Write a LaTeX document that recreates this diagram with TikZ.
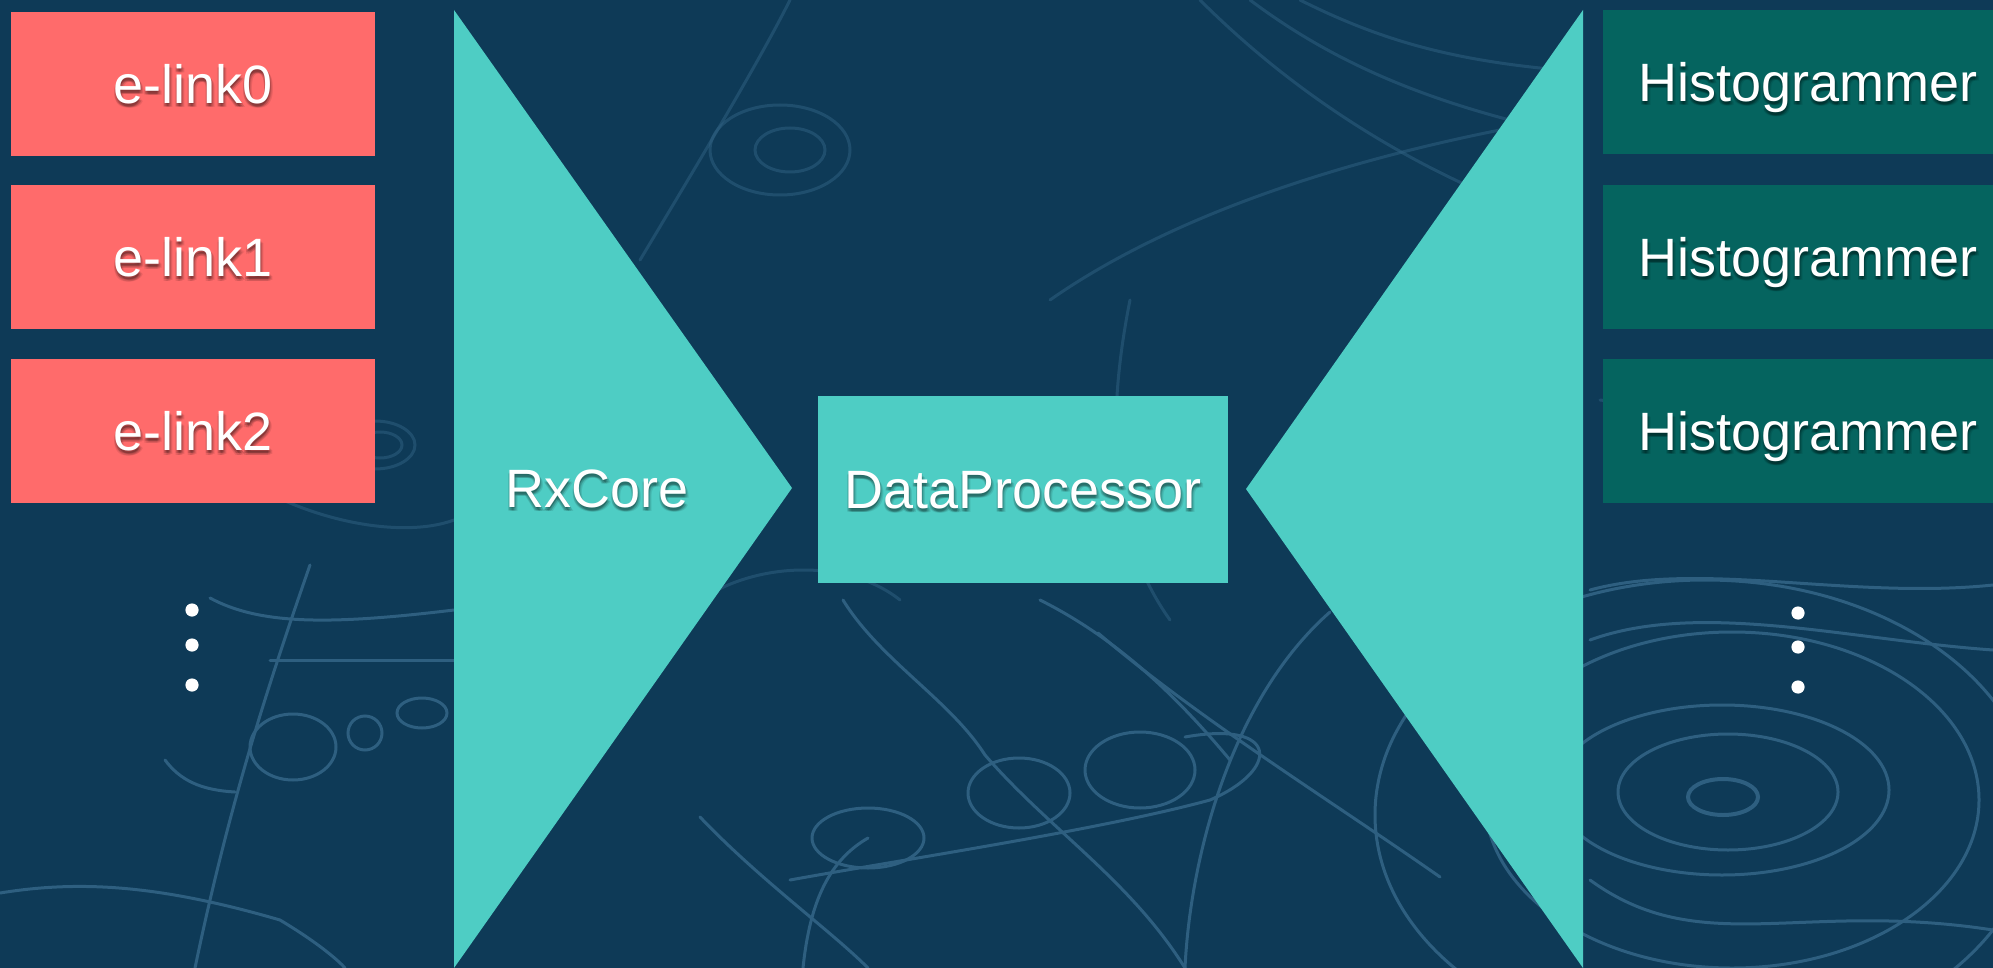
\documentclass[tikz,border=0pt]{standalone}
\usepackage{fontspec}
\setmainfont{Liberation Sans}
\definecolor{bgnavy}{HTML}{0E3A57}
\definecolor{trackc}{HTML}{2E5F80}
\definecolor{linkred}{HTML}{FF6B6B}
\definecolor{coreteal}{HTML}{4ECDC4}
\definecolor{histteal}{HTML}{05645F}
\tikzset{
  track/.style={draw=trackc, line width=3pt, line cap=round},
  faint/.style={draw=trackc, line width=3pt, opacity=0.55, line cap=round},
  linkbox/.style={fill=linkred, minimum width=364pt, minimum height=144pt, anchor=north west, inner sep=0pt},
  histbox/.style={fill=histteal, minimum width=400pt, minimum height=144pt, anchor=north west, inner sep=0pt},
  procbox/.style={fill=coreteal, minimum width=410pt, minimum height=187pt, anchor=north west, inner sep=0pt},
  lbl/.style={text=white, font=\fontsize{54}{60}\selectfont, inner sep=0pt},
  lblshade/.style={text=black, opacity=0.09, font=\fontsize{54}{60}\selectfont, inner sep=0pt},
  dot/.style={fill=white},
}
% soft drop shadow: a few faint copies of the label spread round an offset point
\newcommand{\softshadow}[4]{%
  \foreach \dx/\dy [count=\k] in {0/3, 2/3, -1/3, 1/1.5, 1/4.5, 3/4, -1/4.5} {
    \node[lblshade, #4] (#1sh\k) at ([shift={(\dx,\dy)}]#2) {#3};
  }%
}
\begin{document}
\begin{tikzpicture}[x=1pt,y=-1pt]
\useasboundingbox (0,0) rectangle (1993,968);
\begin{scope}
\clip (0,0) rectangle (1993,968);
\fill[bgnavy] (0,0) rectangle (1993,968);

% bubble-chamber tracks in the background
\draw[track, line width=4pt] (1723,797) ellipse (35 and 18);
\draw[track] (1728,792) ellipse (110 and 58);
\draw[track] (1722,790) ellipse (167 and 85);
\draw[track] (1732,800) ellipse (247 and 168);
\draw[track] (1705,815) ellipse (330 and 235);
\draw[track] (1590,590) .. controls (1700,560) and (1850,600) .. (1993,585);
\draw[track] (1590,640) .. controls (1700,600) and (1850,640) .. (1993,650);
\draw[track] (1590,880) .. controls (1700,960) and (1800,900) .. (1993,930);

\draw[track] (1140,770) ellipse (55 and 38);
\draw[track] (1019,793) ellipse (51 and 35);
\draw[track] (868,838) ellipse (56 and 30);
\draw[track] (790,880) .. controls (900,860) and (1100,830) .. (1210,800)
              .. controls (1280,770) and (1280,720) .. (1185,737);
\draw[track] (1098,633) .. controls (1200,720) and (1330,800) .. (1440,877);
\draw[track] (843,600) .. controls (880,660) and (950,700) .. (985,755)
              .. controls (1050,830) and (1130,880) .. (1185,968);
\draw[track] (1185,968) .. controls (1190,860) and (1230,700) .. (1330,612);
\draw[track] (700,817) .. controls (760,880) and (830,930) .. (868,968);
\draw[track] (803,968) .. controls (810,900) and (830,860) .. (868,838);
\draw[track] (1040,600) .. controls (1120,640) and (1180,700) .. (1230,760);

\draw[track] (293,747) ellipse (43 and 33);
\draw[track] (365,733) circle (17);
\draw[track] (422,713) ellipse (25 and 15);
\draw[track] (165,760) .. controls (180,780) and (200,790) .. (235,792);
\draw[track] (310,565) .. controls (270,680) and (230,800) .. (195,968);
\draw[track] (0,893) .. controls (80,880) and (160,885) .. (280,920)
              .. controls (330,950) and (345,968) .. (345,968);
\draw[track] (210,598) .. controls (260,625) and (330,625) .. (454,610);
\draw[track] (270,660) -- (454,660);

\draw[faint] (375,445) ellipse (40 and 24);
\draw[faint] (380,445) ellipse (22 and 13);
\draw[faint] (230,470) .. controls (300,520) and (400,540) .. (454,520);
\draw[faint] (780,150) ellipse (70 and 45);
\draw[faint] (790,150) ellipse (35 and 22);
\draw[faint] (640,260) .. controls (700,160) and (760,60) .. (790,0);
\draw[faint] (1050,300) .. controls (1150,230) and (1300,170) .. (1500,130);
\draw[faint] (1200,0) .. controls (1280,80) and (1380,150) .. (1500,200);
\draw[faint] (1250,0) .. controls (1330,60) and (1420,100) .. (1550,130);
\draw[faint] (1300,0) .. controls (1380,40) and (1450,60) .. (1560,70);
\draw[faint] (1170,620) .. controls (1120,550) and (1100,450) .. (1130,300);
\draw[faint] (700,600) .. controls (760,560) and (850,560) .. (900,600);
\draw[faint] (1600,400) .. controls (1750,420) and (1900,410) .. (1993,380);

% RxCore and histogram funnels
\coordinate (rxtop) at (454,10);
\coordinate (rxtip) at (792,488);
\coordinate (rxbot) at (454,968);
\fill[coreteal] (rxtop) -- (rxtip) -- (rxbot) -- cycle;
\coordinate (hstop) at (1583,10);
\coordinate (hstip) at (1246,489);
\coordinate (hsbot) at (1583,968);
\fill[coreteal] (hstop) -- (hstip) -- (hsbot) -- cycle;

% e-link inputs
\node[linkbox] (l0) at (11,12) {};
\node[linkbox] (l1) at (11,185) {};
\node[linkbox] (l2) at (11,359) {};
\foreach \n/\t in {l0/e-link0, l1/e-link1, l2/e-link2} {
  \softshadow{\n}{\n.center}{\t}{}
  \node[lbl] (\n t) at (\n.center) {\t};
}

% histogrammers
\node[histbox] (h0) at (1603,10) {};
\node[histbox] (h1) at (1603,185) {};
\node[histbox] (h2) at (1603,359) {};
\foreach \n in {h0, h1, h2} {
  \coordinate (\n b) at ([shift={(35,19)}]\n.west);
  \softshadow{\n}{\n b}{Histogrammer}{anchor=base west}
  \node[lbl, anchor=base west] (\n t) at (\n b) {Histogrammer};
}

% data processor
\node[procbox] (dp) at (818,396) {};
\softshadow{dp}{dp.center}{DataProcessor}{}
\node[lbl] (dpt) at (dp.center) {DataProcessor};

% RxCore label
\coordinate (rxb) at (597,507);
\softshadow{rx}{rxb}{RxCore}{anchor=base}
\node[lbl, anchor=base] (rxt) at (rxb) {RxCore};

% ellipsis dots
\fill[dot] (192,610) circle (6.6);
\fill[dot] (192,645) circle (6.6);
\fill[dot] (192,685) circle (6.6);
\fill[dot] (1798,613) circle (6.6);
\fill[dot] (1798,647) circle (6.6);
\fill[dot] (1798,687) circle (6.6);
\end{scope}
\end{tikzpicture}
\end{document}
